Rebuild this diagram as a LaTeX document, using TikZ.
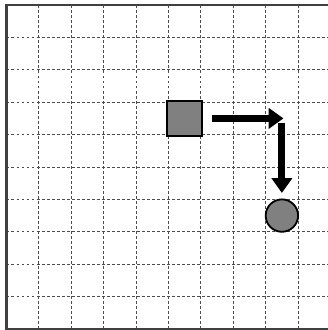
\documentclass[tikz,border=0pt]{standalone}
\usetikzlibrary{arrows.meta}
\definecolor{shape}{HTML}{808080}
\tikzset{
  gridline/.style={draw=black!70, line width=0.75pt, dash pattern=on 2.6pt off 1.8pt},
  frame/.style={draw=black!75, line width=1.8pt},
  sqbox/.style={draw=black, line width=1.6pt, fill=shape, minimum size=1.08cm, inner sep=0pt},
  disc/.style={circle, draw=black, line width=1.6pt, fill=shape, minimum size=1.0cm, inner sep=0pt},
  arr/.style={line width=6.2pt, black, -{Triangle[length=0.46cm, width=0.62cm]}}
}
\begin{document}
\begin{tikzpicture}
\useasboundingbox (-0.2,-0.031) rectangle (9.923,10.154);
\foreach \i in {1,...,9} {
  \draw[gridline] (\i,0) -- (\i,10);
  \draw[gridline] (0,\i) -- (10,\i);
}
\draw[frame] (0,0) rectangle (10,10);
\node[sqbox] (sq) at (5.5,6.5) {};
\node[disc] (ci) at (8.5,3.5) {};
\coordinate (turn) at (sq -| ci);
\draw[arr] ([xshift=0.27cm]sq.east) -- ([xshift=0.05cm]turn);
\draw[arr] ([yshift=-0.14cm]turn) -- ([yshift=0.17cm]ci.north);
\end{tikzpicture}
\end{document}
